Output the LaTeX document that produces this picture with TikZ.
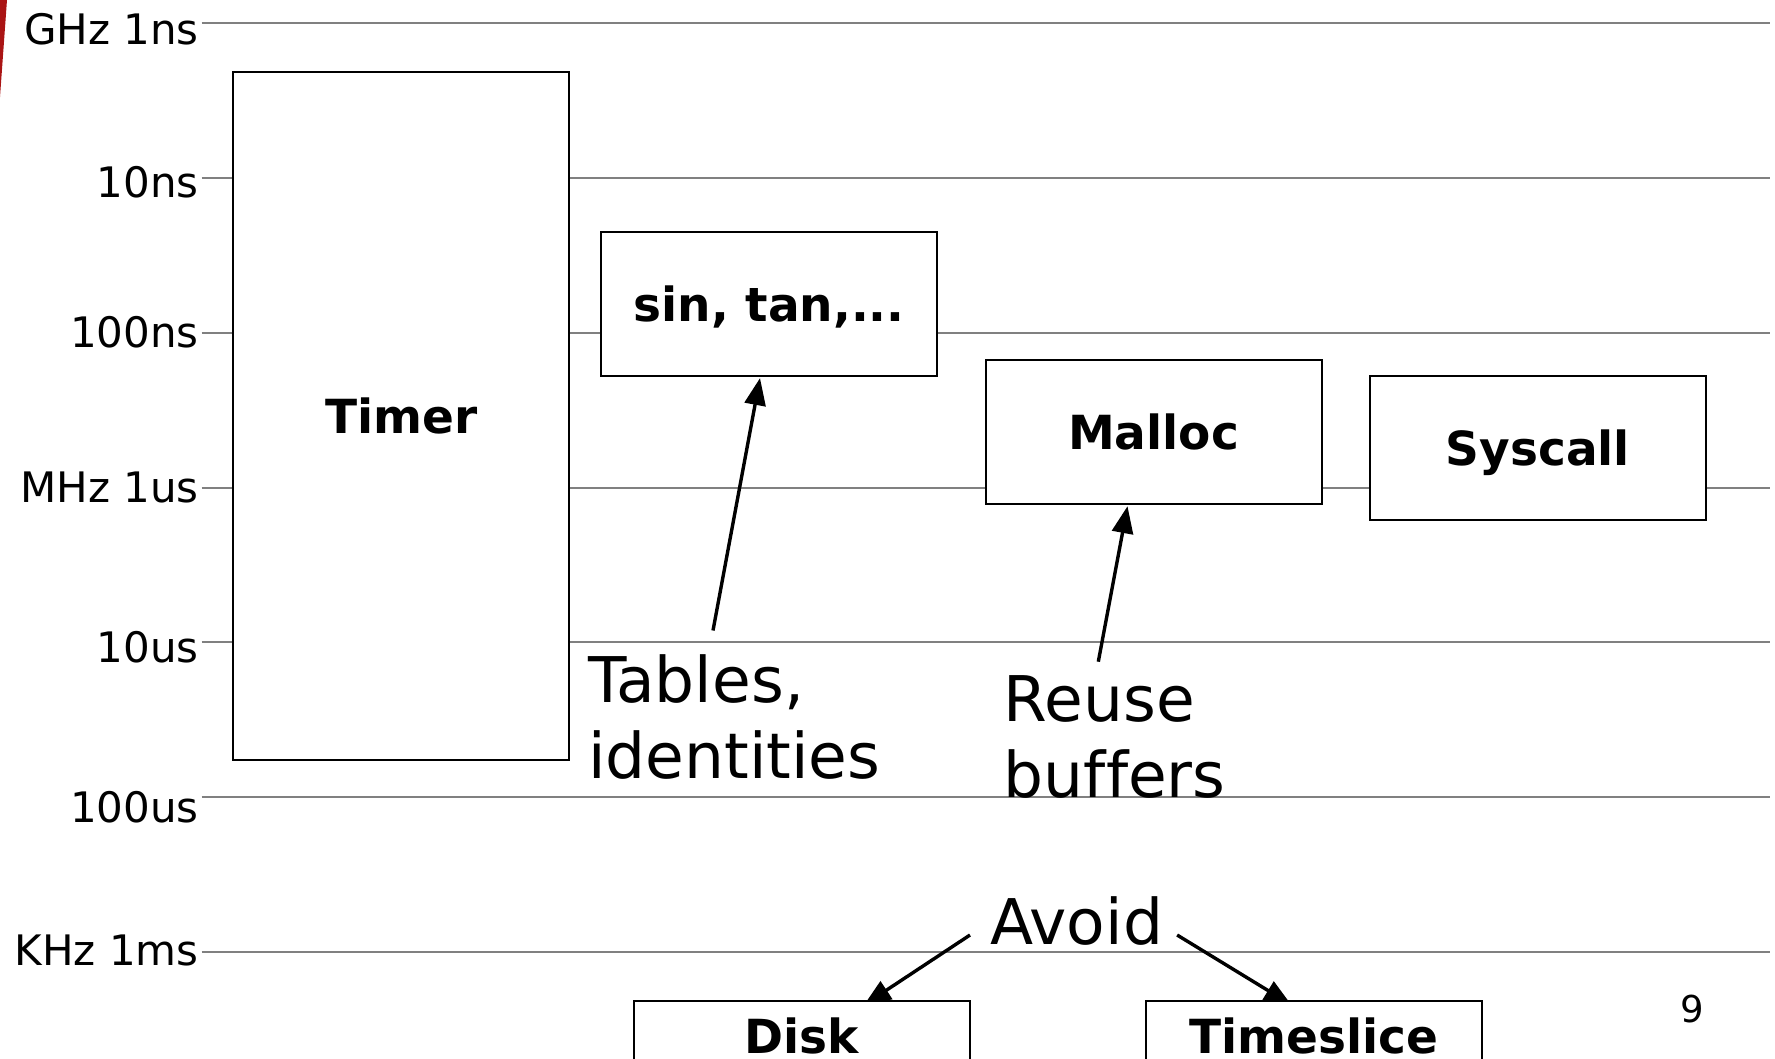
\documentclass[tikz,border=0pt]{standalone}
\usepackage{fontspec}
\setmainfont[Ligatures={NoCommon}]{DejaVu Sans}
\usetikzlibrary{arrows.meta,calc}
\pgfdeclarelayer{bg}
\pgfsetlayers{bg,main}
\definecolor{gridgray}{RGB}{128,128,128}
\definecolor{slidered}{RGB}{170,20,20}
\begin{document}
\begin{tikzpicture}[x=1pt,y=-1pt,
  lbl/.style={font=\fontsize{42}{50}\selectfont, anchor=base east, inner sep=0pt},
  box/.style={draw, line width=2pt, fill=white, minimum width=336pt, minimum height=144pt, inner sep=0pt, text height=36pt, text depth=0pt, font=\bfseries\fontsize{47}{56}\selectfont},
  big/.style={font=\fontsize{63}{76}\selectfont, align=left, inner sep=0pt},
  arr/.style={line width=3.4pt, -{Triangle[length=27pt,width=21pt]}},
  gridline/.style={gridgray, line width=2pt}]
\useasboundingbox (0,0) rectangle (1775,1058);
\clip (0,0) rectangle (1775,1058);

\fill[slidered] (0,0) -- (7,0) -- (0,97) -- cycle;

\begin{pgfonlayer}{bg}
\foreach \yy in {23.3,178.3,332.7,487.7,642.3,796.7,951.7}
  \draw[gridline] (201.7,\yy) -- (1770,\yy);
\end{pgfonlayer}

% axis labels
\node[lbl] (l1) at (199,44) {GHz 1ns};
\node[lbl] (l2) at (199,197) {10ns};
\node[lbl] (l3) at (199,347) {100ns};
\node[lbl] (l4) at (199,502) {MHz 1us};
\node[lbl] (l5) at (199,662) {10us};
\node[lbl] (l6) at (199,822) {100us};
\node[lbl] (l7) at (199,965) {KHz 1ms};

% boxes
\node[box, minimum height=688pt] (timer) at (401.3,415.5) {Timer};
\node[box] (sin) at (769.2,303.9) {sin, tan,...};
\node[box] (malloc) at (1153.5,431.9) {Malloc};
\node[box] (syscall) at (1537.8,447.7) {Syscall};
\node[box, minimum height=70pt, anchor=north] (disk) at (802,999.6) {Disk};
\node[box, minimum height=70pt, anchor=north] (timeslice) at (1313.7,999.6) {Timeslice};

% annotations
\node[big, anchor=north west] (tables) at (588,654.7) {Tables,\\identities};
\node[big, anchor=north west] (reuse) at (1003.7,675) {Reuse\\buf\kern0pt fers};
\node[big, anchor=base west] (avoid) at (990,944) {Avoid};
\node[font=\fontsize{37}{44}\selectfont, anchor=base, inner sep=0pt] (pagenum) at (1692,1022) {9};

\begin{pgfonlayer}{bg}
\draw[arr] ($(tables.north west)+(125,-24.2)$) -- ($(sin.south)+(-9.2,1.2)$);
\draw[arr] ($(reuse.north west)+(94.6,-13.3)$) -- ($(malloc.south)+(-26,1.3)$);
\draw[arr] ($(avoid.base west)+(-20,-9)$) -- ($(disk.north west)+(231,5.4)$);
\draw[arr] ($(avoid.base east)+(14,-9)$) -- ($(timeslice.north west)+(146.4,5)$);
\end{pgfonlayer}
\end{tikzpicture}
\end{document}
